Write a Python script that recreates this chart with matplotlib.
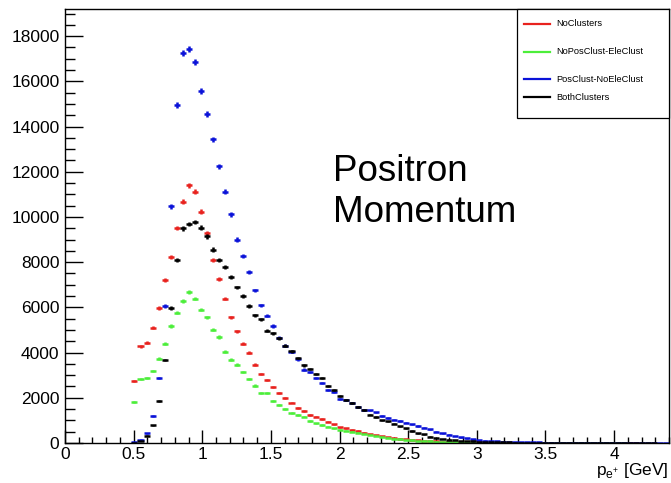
import numpy as np
import matplotlib
matplotlib.use('Agg')
from matplotlib import pyplot as plt
from matplotlib.ticker import MultipleLocator, FuncFormatter
from matplotlib.lines import Line2D
from matplotlib.patches import Rectangle

plt.rcParams['font.family'] = ['Liberation Sans', 'DejaVu Sans']
plt.rcParams['mathtext.fontset'] = 'custom'
plt.rcParams['mathtext.rm'] = 'Liberation Sans'

# Histogram: 100 bins from 0 to 4.4 GeV, first 11 bins are empty
n_bins = 100
x_lo, x_hi = 0.0, 4.4
first_bin = 11

# Bin contents, starting at bin 11 (tail rounded to integers)
no_clusters = [
    2730, 4290, 4440, 5100, 5970, 7210, 8230, 9500, 10670, 11410,
    11120, 10230, 9280, 8110, 7260, 6390, 5560, 4940, 4380, 3990,
    3470, 3060, 2790, 2480, 2230, 2000, 1790, 1550, 1420, 1250,
    1170, 1060, 945, 830, 700, 650, 590, 545, 460, 400,
    355, 310, 265, 225, 190, 165, 140, 120, 100, 85,
    72, 62, 52, 44, 38, 32, 27, 23, 20, 17,
    15, 13, 11, 10, 9, 8, 7, 6, 5, 5,
    4, 4, 3, 3, 3, 2, 2, 2, 2, 1,
    1, 1, 1, 1, 0, 0, 0, 0, 0,
]
no_pos_ele = [
    1810, 2830, 2880, 3190, 3730, 4400, 5180, 5770, 6270, 6670,
    6390, 5900, 5560, 5020, 4690, 4030, 3680, 3460, 3150, 2830,
    2540, 2220, 2210, 1840, 1670, 1510, 1320, 1250, 1170, 970,
    870, 800, 720, 650, 590, 545, 490, 445, 400, 355,
    310, 265, 237, 192, 163, 140, 120, 100, 85, 72,
    60, 50, 42, 35, 30, 25, 21, 18, 15, 13,
    11, 10, 9, 8, 7, 6, 5, 4, 4, 3,
    3, 3, 2, 2, 2, 2, 1, 1, 1, 1,
    1, 1, 0, 0, 0, 0, 0, 0, 0,
]
pos_noele = [
    30, 150, 435, 1185, 2880, 6050, 10470, 14950, 17270, 17450,
    16870, 15570, 14550, 13440, 12240, 11120, 10120, 9000, 8290, 7570,
    6750, 6090, 5630, 5180, 4650, 4300, 4040, 3700, 3250, 3140,
    2880, 2650, 2350, 2250, 1950, 1900, 1760, 1610, 1470, 1440,
    1350, 1200, 1100, 1030, 975, 900, 820, 750, 670, 600,
    490, 440, 370, 310, 250, 205, 165, 135, 110, 90,
    75, 62, 52, 45, 38, 33, 28, 24, 21, 18,
    16, 14, 12, 10, 9, 8, 7, 6, 5, 5,
    4, 4, 3, 3, 3, 2, 2, 2, 2,
]
both_clusters = [
    15, 100, 325, 780, 1870, 3670, 5980, 8100, 9490, 9680,
    9780, 9530, 9140, 8560, 8110, 7790, 7330, 6880, 6500, 6060,
    5650, 5470, 4970, 4850, 4640, 4300, 4050, 3760, 3430, 3270,
    3050, 2870, 2510, 2350, 2060, 1910, 1760, 1610, 1460, 1260,
    1150, 1000, 960, 850, 730, 650, 530, 430, 380, 285,
    220, 180, 150, 125, 100, 85, 70, 58, 48, 40,
    34, 28, 24, 20, 17, 14, 12, 10, 9, 8,
    7, 6, 5, 4, 4, 3, 3, 3, 2, 2,
    2, 2, 1, 1, 1, 1, 1, 0, 0,
]

labels = ['NoClusters', 'NoPosClust-EleClust', 'PosClust-NoEleClust', 'BothClusters']
colors = ['#e8221e', '#4cee3a', '#0a12d8', '#000000']
series = [no_clusters, no_pos_ele, pos_noele, both_clusters]

edges = np.linspace(x_lo, x_hi, n_bins + 1)
centers = 0.5 * (edges[:-1] + edges[1:])
half_w = 0.5 * np.diff(edges)

fig = plt.figure(figsize=(6.71, 4.83), dpi=100)
W, H = 671.0, 483.0
ax = fig.add_axes([65 / W, 40 / H, 604 / W, 434 / H])

for vals, col in zip(series, colors):
    counts = np.zeros(n_bins)
    counts[first_bin:first_bin + len(vals)] = vals
    sel = counts > 0
    ax.errorbar(centers[sel], counts[sel], xerr=half_w[sel], yerr=np.sqrt(counts[sel]),
                fmt='none', ecolor=col, elinewidth=1.8, capsize=0)

ax.set_xlim(x_lo, x_hi)
ax.set_ylim(0, 19200)

ax.xaxis.set_major_locator(MultipleLocator(0.5))
ax.xaxis.set_minor_locator(MultipleLocator(0.1))
ax.yaxis.set_major_locator(MultipleLocator(2000))
ax.yaxis.set_minor_locator(MultipleLocator(500))
ax.xaxis.set_major_formatter(FuncFormatter(lambda v, p: '%g' % v))

ax.tick_params(which='both', direction='in', top=False, right=False, width=1.0,
               labelsize=12.5, colors='black')
ax.xaxis.set_tick_params(which='major', length=9.5, pad=3)
ax.xaxis.set_tick_params(which='minor', length=4.5)
ax.yaxis.set_tick_params(which='major', length=13, pad=4)
ax.yaxis.set_tick_params(which='minor', length=7)
for sp in ax.spines.values():
    sp.set_linewidth(1.0)

ax.text(1.95, 11100, 'Positron\nMomentum', fontsize=26.5, va='center', ha='left',
        linespacing=1.25)

fig.text(669 / W, 1 - 475 / H, r'p$_{\mathrm{e^{+}}}$ [GeV]', ha='right', va='baseline',
         fontsize=12.5)

# Legend box drawn in figure pixels like the ROOT TLegend
fig.add_artist(Rectangle((517 / W, 1 - 118 / H), 152 / W, 109 / H, transform=fig.transFigure,
                         facecolor='white', edgecolor='black', linewidth=0.9, zorder=5))
leg_y = [24, 51.5, 79, 97]
for yy, lab, col in zip(leg_y, labels, colors):
    fig.add_artist(Line2D([524 / W, 550 / W], [1 - yy / H, 1 - yy / H], transform=fig.transFigure,
                          color=col, linewidth=1.6, zorder=6))
    fig.text(556 / W, 1 - yy / H, lab, fontsize=6.7, va='center', ha='left', zorder=7)

fig.savefig('out.png', dpi=100)
